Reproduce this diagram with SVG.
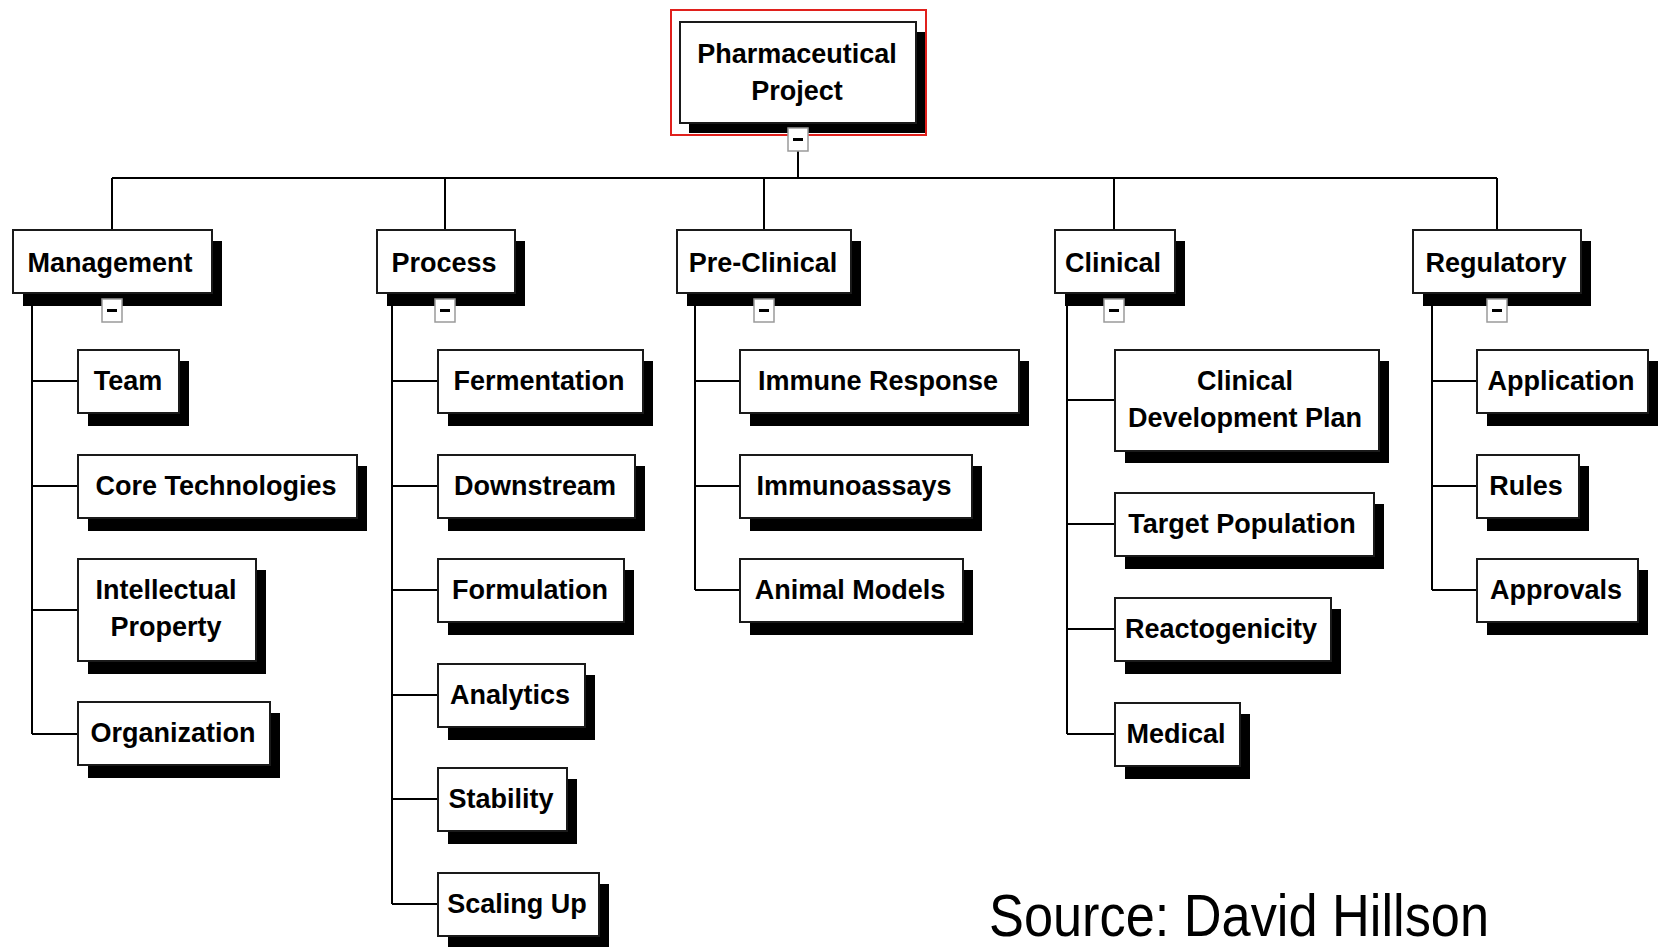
<svg xmlns="http://www.w3.org/2000/svg" width="1663" height="947" viewBox="0 0 1663 947">
  <style>
    .box { fill: #ffffff; stroke: #1a1a1a; stroke-width: 2; }
    .shadow { fill: #000000; }
    .label { font-family: "Liberation Sans", Arial, sans-serif; font-weight: bold; font-size: 27px; fill: #000000; text-anchor: middle; }
    .wire { fill: none; stroke: #000000; stroke-width: 2; }
    .toggle { fill: #ffffff; stroke: #9a9a9a; stroke-width: 1.5; }
    .minus { fill: #000000; }
    .credit { font-family: "Liberation Sans", Arial, sans-serif; font-size: 60px; fill: #000000; }
  </style>

  <rect width="1663" height="947" fill="#ffffff"/>

  <!-- connectors -->
  <g id="connectors" class="wire">
    <!-- root to level 1 -->
    <path d="M798 150 V178 M112 178 H1497 M112 178 V230 M445 178 V230 M764 178 V230 M1114 178 V230 M1497 178 V230"/>
    <!-- Management -->
    <path d="M32 294 V734 M32 381 H78 M32 486 H78 M32 610 H78 M32 734 H78"/>
    <!-- Process -->
    <path d="M392 294 V904 M392 381 H438 M392 486 H438 M392 590 H438 M392 695 H438 M392 799 H438 M392 904 H438"/>
    <!-- Pre-Clinical -->
    <path d="M695 294 V590 M695 381 H740 M695 486 H740 M695 590 H740"/>
    <!-- Clinical -->
    <path d="M1067 294 V734 M1067 400 H1115 M1067 524 H1115 M1067 629 H1115 M1067 734 H1115"/>
    <!-- Regulatory -->
    <path d="M1432 294 V590 M1432 381 H1477 M1432 486 H1477 M1432 590 H1477"/>
  </g>

  <!-- root -->
  <g id="node-root">
    <rect x="671" y="10" width="255" height="125" fill="none" stroke="#e0201c" stroke-width="2"/>
    <rect class="shadow" x="689" y="32" width="236" height="101"/>
    <rect class="box" x="680" y="22" width="236" height="101"/>
    <text class="label" x="797" y="63">Pharmaceutical</text>
    <text class="label" x="797" y="100">Project</text>
    <rect class="toggle" x="788" y="128" width="20" height="23"/>
    <rect class="minus" x="793" y="138" width="10" height="3"/>
  </g>

  <!-- level 1 -->
  <g id="node-management">
    <rect class="shadow" x="23" y="241" width="199" height="65"/>
    <rect class="box" x="13" y="230" width="199" height="63"/>
    <text class="label" x="110" y="272">Management</text>
    <rect class="toggle" x="102" y="299" width="20" height="23"/>
    <rect class="minus" x="107" y="309" width="10" height="3"/>
  </g>
  <g id="node-process">
    <rect class="shadow" x="387" y="241" width="138" height="65"/>
    <rect class="box" x="377" y="230" width="138" height="63"/>
    <text class="label" x="444" y="272">Process</text>
    <rect class="toggle" x="435" y="299" width="20" height="23"/>
    <rect class="minus" x="440" y="309" width="10" height="3"/>
  </g>
  <g id="node-preclinical">
    <rect class="shadow" x="687" y="241" width="174" height="65"/>
    <rect class="box" x="677" y="230" width="174" height="63"/>
    <text class="label" x="763" y="272">Pre-Clinical</text>
    <rect class="toggle" x="754" y="299" width="20" height="23"/>
    <rect class="minus" x="759" y="309" width="10" height="3"/>
  </g>
  <g id="node-clinical">
    <rect class="shadow" x="1065" y="241" width="120" height="65"/>
    <rect class="box" x="1055" y="230" width="120" height="63"/>
    <text class="label" x="1113" y="272">Clinical</text>
    <rect class="toggle" x="1104" y="299" width="20" height="23"/>
    <rect class="minus" x="1109" y="309" width="10" height="3"/>
  </g>
  <g id="node-regulatory">
    <rect class="shadow" x="1423" y="241" width="168" height="65"/>
    <rect class="box" x="1413" y="230" width="168" height="63"/>
    <text class="label" x="1496" y="272">Regulatory</text>
    <rect class="toggle" x="1487" y="299" width="20" height="23"/>
    <rect class="minus" x="1492" y="309" width="10" height="3"/>
  </g>

  <!-- Management children -->
  <g id="node-team">
    <rect class="shadow" x="88" y="361" width="101" height="65"/>
    <rect class="box" x="78" y="350" width="101" height="63"/>
    <text class="label" x="128" y="390">Team</text>
  </g>
  <g id="node-core-technologies">
    <rect class="shadow" x="88" y="466" width="279" height="65"/>
    <rect class="box" x="78" y="455" width="279" height="63"/>
    <text class="label" x="216" y="495">Core Technologies</text>
  </g>
  <g id="node-intellectual-property">
    <rect class="shadow" x="88" y="570" width="178" height="104"/>
    <rect class="box" x="78" y="559" width="178" height="102"/>
    <text class="label" x="166" y="599">Intellectual</text>
    <text class="label" x="166" y="636">Property</text>
  </g>
  <g id="node-organization">
    <rect class="shadow" x="88" y="713" width="192" height="65"/>
    <rect class="box" x="78" y="702" width="192" height="63"/>
    <text class="label" x="173" y="742">Organization</text>
  </g>

  <!-- Process children -->
  <g id="node-fermentation">
    <rect class="shadow" x="448" y="361" width="205" height="65"/>
    <rect class="box" x="438" y="350" width="205" height="63"/>
    <text class="label" x="539" y="390">Fermentation</text>
  </g>
  <g id="node-downstream">
    <rect class="shadow" x="448" y="466" width="197" height="65"/>
    <rect class="box" x="438" y="455" width="197" height="63"/>
    <text class="label" x="535" y="495">Downstream</text>
  </g>
  <g id="node-formulation">
    <rect class="shadow" x="448" y="570" width="186" height="65"/>
    <rect class="box" x="438" y="559" width="186" height="63"/>
    <text class="label" x="530" y="599">Formulation</text>
  </g>
  <g id="node-analytics">
    <rect class="shadow" x="448" y="675" width="147" height="65"/>
    <rect class="box" x="438" y="664" width="147" height="63"/>
    <text class="label" x="510" y="704">Analytics</text>
  </g>
  <g id="node-stability">
    <rect class="shadow" x="448" y="779" width="129" height="65"/>
    <rect class="box" x="438" y="768" width="129" height="63"/>
    <text class="label" x="501" y="808">Stability</text>
  </g>
  <g id="node-scaling-up">
    <rect class="shadow" x="448" y="884" width="161" height="65"/>
    <rect class="box" x="438" y="873" width="161" height="63"/>
    <text class="label" x="517" y="913">Scaling Up</text>
  </g>

  <!-- Pre-Clinical children -->
  <g id="node-immune-response">
    <rect class="shadow" x="750" y="361" width="279" height="65"/>
    <rect class="box" x="740" y="350" width="279" height="63"/>
    <text class="label" x="878" y="390">Immune Response</text>
  </g>
  <g id="node-immunoassays">
    <rect class="shadow" x="750" y="466" width="232" height="65"/>
    <rect class="box" x="740" y="455" width="232" height="63"/>
    <text class="label" x="854" y="495">Immunoassays</text>
  </g>
  <g id="node-animal-models">
    <rect class="shadow" x="750" y="570" width="223" height="65"/>
    <rect class="box" x="740" y="559" width="223" height="63"/>
    <text class="label" x="850" y="599">Animal Models</text>
  </g>

  <!-- Clinical children -->
  <g id="node-clinical-development-plan">
    <rect class="shadow" x="1125" y="361" width="264" height="102"/>
    <rect class="box" x="1115" y="350" width="264" height="101"/>
    <text class="label" x="1245" y="390">Clinical</text>
    <text class="label" x="1245" y="427">Development Plan</text>
  </g>
  <g id="node-target-population">
    <rect class="shadow" x="1125" y="504" width="259" height="65"/>
    <rect class="box" x="1115" y="493" width="259" height="63"/>
    <text class="label" x="1242" y="533">Target Population</text>
  </g>
  <g id="node-reactogenicity">
    <rect class="shadow" x="1125" y="609" width="216" height="65"/>
    <rect class="box" x="1115" y="598" width="216" height="63"/>
    <text class="label" x="1221" y="638">Reactogenicity</text>
  </g>
  <g id="node-medical">
    <rect class="shadow" x="1125" y="714" width="125" height="65"/>
    <rect class="box" x="1115" y="703" width="125" height="63"/>
    <text class="label" x="1176" y="743">Medical</text>
  </g>

  <!-- Regulatory children -->
  <g id="node-application">
    <rect class="shadow" x="1487" y="361" width="171" height="65"/>
    <rect class="box" x="1477" y="350" width="171" height="63"/>
    <text class="label" x="1561" y="390">Application</text>
  </g>
  <g id="node-rules">
    <rect class="shadow" x="1487" y="466" width="102" height="65"/>
    <rect class="box" x="1477" y="455" width="102" height="63"/>
    <text class="label" x="1526" y="495">Rules</text>
  </g>
  <g id="node-approvals">
    <rect class="shadow" x="1487" y="570" width="161" height="65"/>
    <rect class="box" x="1477" y="559" width="161" height="63"/>
    <text class="label" x="1556" y="599">Approvals</text>
  </g>

  <text class="credit" x="989" y="936" textLength="500" lengthAdjust="spacingAndGlyphs">Source: David Hillson</text>
</svg>
